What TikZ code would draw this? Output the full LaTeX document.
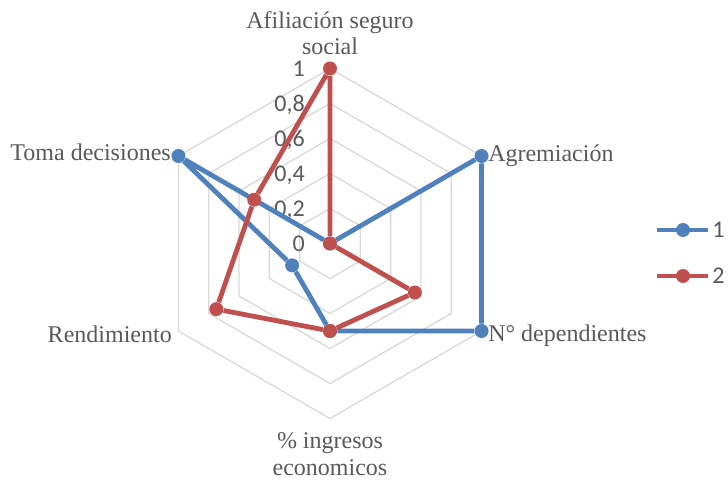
\documentclass[tikz,border=0pt]{standalone}
\usepackage{fontspec}
\setmainfont{Liberation Serif}
\newfontfamily\calibrifont{Carlito}
\usetikzlibrary{positioning}
\definecolor{SeriesBlue}{HTML}{4F81BD}
\definecolor{SeriesRed}{HTML}{C0504D}
\definecolor{GridGray}{HTML}{D9D9D9}
\definecolor{TextGray}{HTML}{595959}
\colorlet{col1}{SeriesBlue}
\colorlet{col2}{SeriesRed}
\tikzset{
  radar style/.style={
    x=0.75pt,y=0.75pt,
  },
  grid hex/.style={
    draw=GridGray,
    line width=1pt,
  },
  axis label/.style={
    text=TextGray,
    font=\fontsize{18}{20}\selectfont,
    inner sep=0pt,
  },
  tick label/.style={
    text=TextGray,
    font=\calibrifont\fontsize{18}{20}\selectfont,
    anchor=base east,
    inner sep=0pt,
  },
  legend label/.style={
    tick label,
    anchor=center,
  },
  dot/.style={
    fill=#1,
    circle,
    inner sep=0pt,
    minimum size=10.5pt
  },
  dot1/.style={
    dot=col1,
  },
  dot2/.style={
    dot=col2,
  },
  series/.style={
    draw=#1,
    line width=3.6pt,
  },
  series 1/.style={
    series=col1,
  },
  series 2/.style={
    series=col2,
  },
}

\begin{document}
\begin{tikzpicture}[radar style]
  \useasboundingbox (-330,-237.5) rectangle (398,243.5);
  % grid
  \foreach \r in {35,70,105,140,175}
    \draw[grid hex] (90:\r) -- (30:\r) -- (-30:\r) -- (-90:\r)
      -- (-150:\r) -- (150:\r) -- cycle;
  \foreach \v/\t in {0/0,35/{0,2},70/{0,4},105/{0,6},140/{0,8},175/1}
    \node[tick label] (tick\v) at (-25,\v-8.5) {\t};
  % axis labels
  \node[axis label, align=center, anchor=south] (afil) at (0,188)
    {Afiliación seguro\\social};
  \node[axis label, anchor=base west] (agrem) at (158,81.5) {Agremiación};
  \node[axis label, anchor=base west] (ndep) at (158,-98.5) {N° dependientes};
  \node[axis label, align=center, anchor=north] (ingr) at (0,-189)
    {\% ingresos\\economicos};
  \node[axis label, anchor=base east] (rend) at (-158,-99.5) {Rendimiento};
  \node[axis label, anchor=base east] (toma) at (-159,82.5) {Toma decisiones};
  % serie 1
  \node[dot1] (a1) at (90:0) {};
  \node[dot1] (a2) at (30:175) {};
  \node[dot1] (a3) at (-30:175) {};
  \node[dot1] (a4) at (-90:87.5) {};
  \node[dot1] (a5) at (-150:43.75) {};
  \node[dot1] (a6) at (150:175) {};
  \draw[series 1] (a1) -- (a2) -- (a3) -- (a4) -- (a5) -- (a6) -- (a1);
  % serie 2
  \node[dot2] (b1) at (90:175) {};
  \node[dot2] (b2) at (30:0) {};
  \node[dot2] (b3) at (-30:98) {};
  \node[dot2] (b4) at (-90:87.5) {};
  \node[dot2] (b5) at (-150:131.25) {};
  \node[dot2] (b6) at (150:87.5) {};
  \draw[series 2] (b1) -- (b2) -- (b3) -- (b4) -- (b5) -- (b6) -- (b1);
  % legend
  \coordinate (leg1a) at (327,13.5);
  \coordinate (leg1b) at (378,13.5);
  \draw[series 1] (leg1a) -- (leg1b);
  \node[dot1] (leg1dot) at (353,13.5) {};
  \node[legend label, right=3pt of leg1b, anchor=west] (leg1txt) {1};
  \coordinate (leg2a) at (327,-32.5);
  \coordinate (leg2b) at (378,-32.5);
  \draw[series 2] (leg2a) -- (leg2b);
  \node[dot2] (leg2dot) at (353,-32.5) {};
  \node[legend label, right=3pt of leg2b, anchor=west] (leg2txt) {2};
\end{tikzpicture}
\end{document}
